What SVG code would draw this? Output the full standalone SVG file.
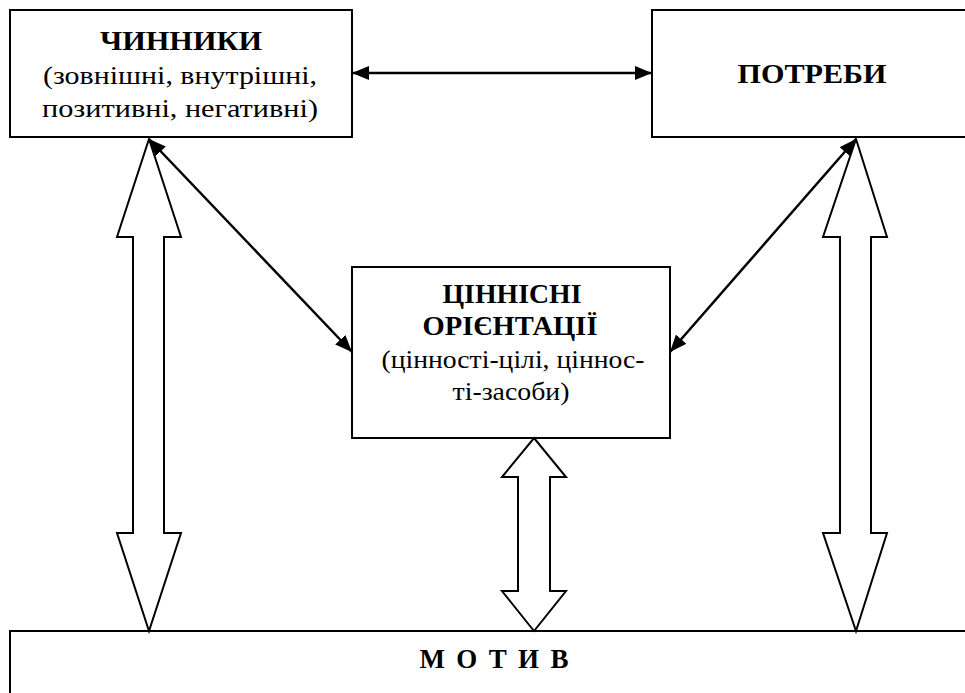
<svg xmlns="http://www.w3.org/2000/svg" width="965" height="693" viewBox="0 0 965 693">
<defs>
<style>
.box{fill:#fff;stroke:#000;stroke-width:2}
text{font-family:'Liberation Serif','Times New Roman',serif;font-size:26px;text-anchor:middle;fill:#000}
.b{font-weight:bold;font-size:27px}
.con{stroke:#000;stroke-width:2.5;fill:none}
.big{fill:#fff;stroke:#000;stroke-width:2;stroke-linejoin:miter}
</style>
<marker id="ah" markerUnits="userSpaceOnUse" markerWidth="17" markerHeight="14" viewBox="0 0 17 14" refX="17" refY="7" orient="auto-start-reverse">
<path d="M0,0 L17,7 L0,14 z" fill="#000"/>
</marker>
</defs>
<rect width="965" height="693" fill="#fff"/>
<g id="chynnyky">
<rect class="box" x="10" y="10" width="342" height="127"/>
<text class="b" x="181" y="50" textLength="162" lengthAdjust="spacingAndGlyphs">ЧИННИКИ</text>
<text x="180" y="84" textLength="274" lengthAdjust="spacingAndGlyphs">(зовнішні, внутрішні,</text>
<text x="180" y="117" textLength="276" lengthAdjust="spacingAndGlyphs">позитивні, негативні)</text>
</g>
<g id="potreby">
<rect class="box" x="652" y="10" width="330" height="127"/>
<text class="b" x="812" y="83" textLength="149" lengthAdjust="spacingAndGlyphs">ПОТРЕБИ</text>
</g>
<g id="tsinnisni">
<rect class="box" x="352" y="267" width="318" height="171"/>
<text class="b" x="512" y="303" textLength="139" lengthAdjust="spacingAndGlyphs">ЦІННІСНІ</text>
<text class="b" x="510" y="335" textLength="175" lengthAdjust="spacingAndGlyphs">ОРІЄНТАЦІЇ</text>
<text x="513" y="368" textLength="263" lengthAdjust="spacingAndGlyphs">(цінності-цілі, ціннос-</text>
<text x="511" y="400" textLength="117" lengthAdjust="spacingAndGlyphs">ті-засоби)</text>
</g>
<g id="motyv">
<rect class="box" x="10" y="631" width="980" height="80"/>
<text class="b" x="494" y="668" textLength="149" lengthAdjust="spacing">М О Т И В</text>
</g>
<g id="connectors">
<line class="con" x1="352" y1="73" x2="652" y2="73" marker-start="url(#ah)" marker-end="url(#ah)"/>
<line class="con" x1="149" y1="139" x2="352" y2="352" marker-start="url(#ah)" marker-end="url(#ah)"/>
<line class="con" x1="856" y1="139" x2="670" y2="352" marker-start="url(#ah)" marker-end="url(#ah)"/>
<polygon class="big" points="149,139 181,237 164,237 164,533 181,533 149,631 117,533 133,533 133,237 117,237"/>
<polygon class="big" points="856,139 887,237 871,237 871,533 887,533 856,631 823,533 840,533 840,237 823,237"/>
<polygon class="big" points="534,438 566,477 550,477 550,591 566,591 534,631 502,591 518,591 518,477 502,477"/>
</g>
</svg>
